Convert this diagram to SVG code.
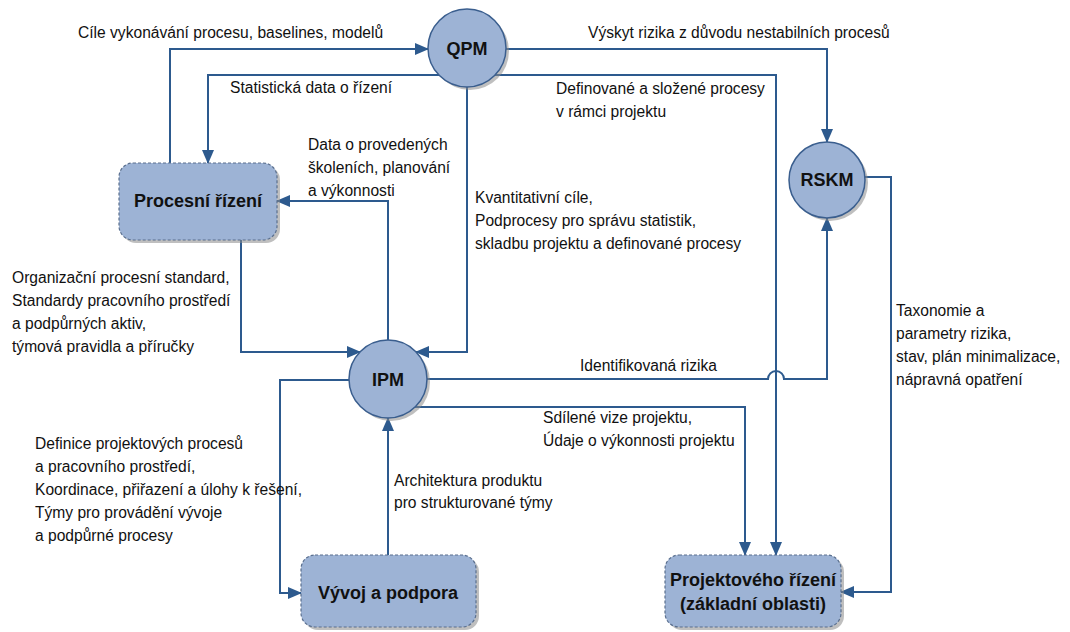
<svg xmlns="http://www.w3.org/2000/svg" width="1070" height="632" viewBox="0 0 1070 632">
<style>
.t{font-family:"Liberation Sans",Arial,sans-serif;font-size:15.6px;fill:#111}
.b{font-family:"Liberation Sans",Arial,sans-serif;font-size:18px;font-weight:bold;fill:#111;text-anchor:middle}
.c{fill:#9DB3D5;stroke:#3A5E8E;stroke-width:1.5}
.r{fill:#9DB3D5;stroke:#5A6F8E;stroke-width:1.2;stroke-dasharray:3 2}
.s{fill:#8a8a8a;opacity:.55}
.l{fill:none;stroke:#2D5A8E;stroke-width:2}
.a{marker-end:url(#ah)}
</style>
<defs>
<marker id="ah" markerUnits="userSpaceOnUse" markerWidth="14" markerHeight="12" refX="13" refY="6" orient="auto">
<path d="M0,0 L14,6 L0,12 z" fill="#2D5A8E"/>
</marker>
</defs>
<rect width="1070" height="632" fill="#fff"/>

<g id="connectors">
<path class="l a" d="M170,163 V49 H428"/>
<path class="l a" d="M439,75 H208 V163"/>
<path class="l a" d="M506,49 H827 V142"/>
<path class="l a" d="M495,75 H776 V555"/>
<path class="l a" d="M467,87 V352 H416"/>
<path class="l a" d="M241,240 V352 H360"/>
<path class="l a" d="M388,340 V201 H277"/>
<path class="l a" d="M427,379 H768 A8,8 0 0 1 784,379 H827 V218"/>
<path class="l a" d="M865,177 H891 V592 H841"/>
<path class="l a" d="M415,407 H745 V555"/>
<path class="l a" d="M349,380 H280 V593 H301"/>
<path class="l a" d="M388,555 V418"/>
</g>

<g id="node-qpm">
<circle class="s" cx="470" cy="51" r="39"/>
<circle class="c" cx="467" cy="48" r="39"/>
<text class="b" x="467" y="55" font-size="19">QPM</text>
</g>
<g id="node-rskm">
<circle class="s" cx="830" cy="183" r="38"/>
<circle class="c" cx="827" cy="180" r="38"/>
<text class="b" x="827" y="186">RSKM</text>
</g>
<g id="node-ipm">
<circle class="s" cx="391" cy="382" r="39"/>
<circle class="c" cx="388" cy="379" r="39"/>
<text class="b" x="388" y="386">IPM</text>
</g>
<g id="node-procesni">
<rect class="s" x="122" y="166" width="158" height="77" rx="14"/>
<rect class="r" x="119" y="163" width="158" height="77" rx="14"/>
<text class="b" x="198" y="207">Procesní řízení</text>
</g>
<g id="node-vyvoj">
<rect class="s" x="304" y="558" width="175" height="72" rx="14"/>
<rect class="r" x="301" y="555" width="175" height="72" rx="14"/>
<text class="b" x="388" y="599">Vývoj a podpora</text>
</g>
<g id="node-projektoveho">
<rect class="s" x="668" y="558" width="176" height="72" rx="14"/>
<rect class="r" x="665" y="555" width="176" height="72" rx="14"/>
<text class="b" x="753" y="586">Projektového řízení</text>
<text class="b" x="753" y="610">(základní oblasti)</text>
</g>

<g id="labels">
<text class="t" x="78" y="38">Cíle vykonávání procesu, baselines, modelů</text>
<text class="t" x="230" y="93">Statistická data o řízení</text>
<text class="t" x="588" y="38">Výskyt rizika z důvodu nestabilních procesů</text>
<text class="t" x="556" y="94">Definované a složené procesy</text>
<text class="t" x="556" y="117">v rámci projektu</text>
<text class="t" x="308" y="150">Data o provedených</text>
<text class="t" x="308" y="173">školeních, planování</text>
<text class="t" x="308" y="196">a výkonnosti</text>
<text class="t" x="475" y="203">Kvantitativní cíle,</text>
<text class="t" x="475" y="226">Podprocesy pro správu statistik,</text>
<text class="t" x="475" y="249">skladbu projektu a definované procesy</text>
<text class="t" x="12" y="283">Organizační procesní standard,</text>
<text class="t" x="12" y="306">Standardy pracovního prostředí</text>
<text class="t" x="12" y="329">a podpůrných aktiv,</text>
<text class="t" x="12" y="352">týmová pravidla a příručky</text>
<text class="t" x="580" y="371">Identifikovaná rizika</text>
<text class="t" x="543" y="423">Sdílené vize projektu,</text>
<text class="t" x="543" y="446">Údaje o výkonnosti projektu</text>
<text class="t" x="35" y="449">Definice projektových procesů</text>
<text class="t" x="35" y="472">a pracovního prostředí,</text>
<text class="t" x="35" y="495">Koordinace, přiřazení a úlohy k řešení,</text>
<text class="t" x="35" y="518">Týmy pro provádění vývoje</text>
<text class="t" x="35" y="541">a podpůrné procesy</text>
<text class="t" x="394" y="486">Architektura produktu</text>
<text class="t" x="394" y="508">pro strukturované týmy</text>
<text class="t" x="896" y="316">Taxonomie a</text>
<text class="t" x="896" y="339">parametry rizika,</text>
<text class="t" x="896" y="362">stav, plán minimalizace,</text>
<text class="t" x="896" y="385">nápravná opatření</text>
</g>
</svg>
